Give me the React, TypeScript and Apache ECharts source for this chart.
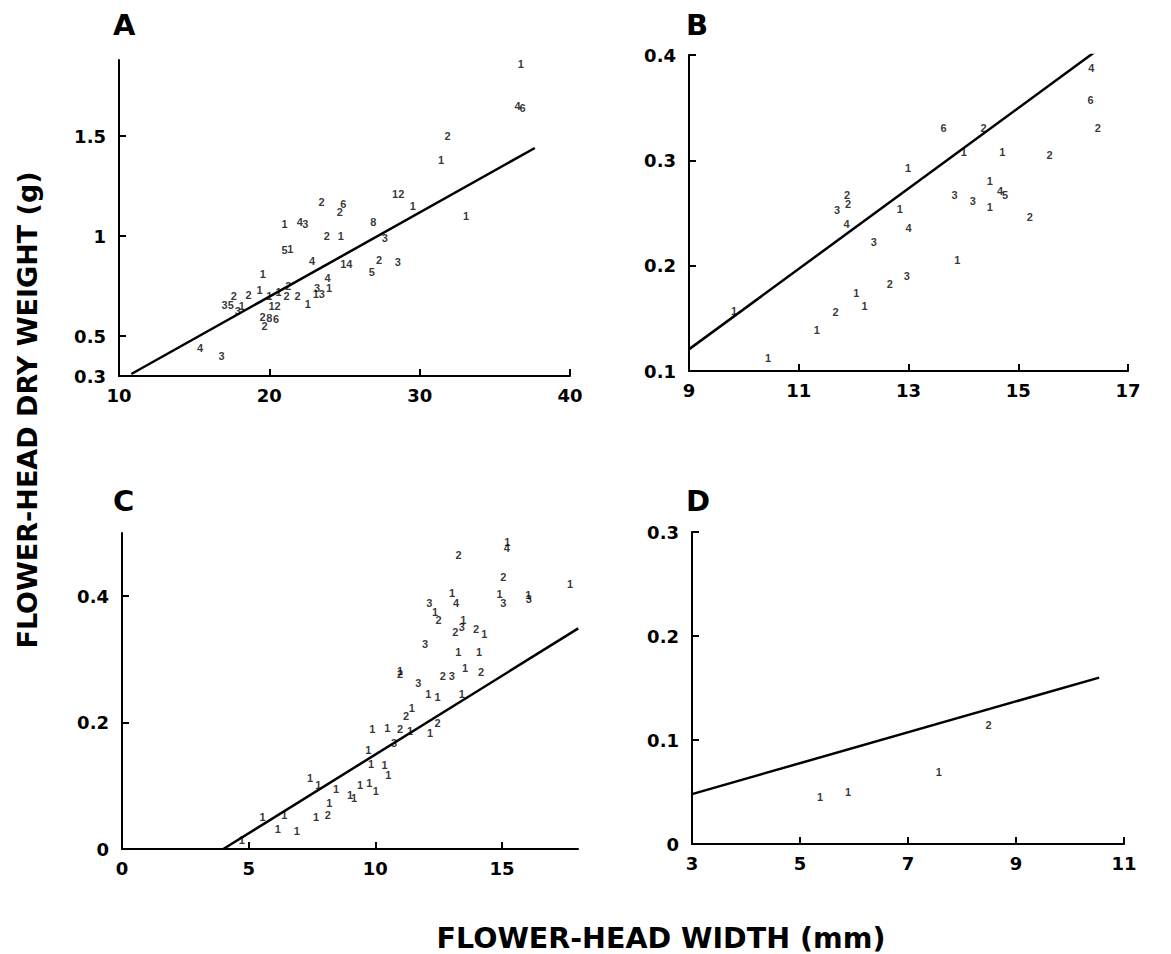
import React, { useEffect, useRef } from "react";
import * as echarts from "echarts";

// Panel A
const aX = [36.72, 36.52, 36.85, 31.86, 31.42, 28.57, 29.55, 33.09, 26.92, 27.68, 27.30, 28.55, 26.81, 25.12, 23.47, 24.92, 24.68, 21.02, 22.02, 22.40, 23.83, 24.76, 21.02, 21.40, 22.85, 19.57, 23.87, 23.18, 23.98, 23.29, 22.56, 21.87, 21.14, 21.27, 20.62, 20.00, 20.35, 19.35, 18.62, 17.64, 17.23, 18.17, 17.90, 19.55, 20.0, 20.44, 19.69, 15.39, 16.83];
const aY = [1.86, 1.65, 1.64, 1.50, 1.38, 1.21, 1.15, 1.10, 1.07, 0.99, 0.88, 0.87, 0.82, 0.86, 1.17, 1.16, 1.12, 1.06, 1.07, 1.06, 1.00, 1.00, 0.93, 0.935, 0.875, 0.81, 0.79, 0.74, 0.74, 0.71, 0.66, 0.70, 0.70, 0.75, 0.72, 0.70, 0.65, 0.73, 0.705, 0.70, 0.655, 0.65, 0.625, 0.595, 0.59, 0.585, 0.55, 0.44, 0.40];
const aN = ["1", "4", "6", "2", "1", "12", "1", "1", "8", "3", "2", "3", "5", "14", "2", "6", "2", "1", "4", "3", "2", "1", "5", "1", "4", "1", "4", "3", "1", "13", "1", "2", "2", "2", "1", "1", "12", "1", "2", "2", "35", "1", "3", "2", "8", "6", "2", "4", "3"];
const aLineX = [10.82, 37.66];
const aLineY = [0.31, 1.44];

// Panel B
const bX = [17.01, 16.33, 16.32, 16.45, 13.64, 14.37, 14.01, 14.71, 15.57, 12.99, 14.48, 14.67, 14.76, 13.84, 14.17, 14.48, 15.21, 11.88, 11.90, 11.70, 11.87, 12.84, 13.00, 12.37, 13.89, 12.97, 12.66, 12.05, 12.20, 11.67, 11.33, 9.82, 10.44];
const bY = [0.403, 0.388, 0.357, 0.331, 0.331, 0.331, 0.308, 0.308, 0.305, 0.293, 0.280, 0.271, 0.267, 0.267, 0.261, 0.256, 0.246, 0.267, 0.259, 0.253, 0.240, 0.254, 0.236, 0.222, 0.205, 0.190, 0.183, 0.174, 0.162, 0.156, 0.139, 0.157, 0.112];
const bN = ["1", "4", "6", "2", "6", "2", "1", "1", "2", "1", "1", "4", "5", "3", "3", "1", "2", "2", "2", "3", "4", "1", "4", "3", "1", "3", "2", "1", "1", "2", "1", "1", "1"];
const bLineX = [9.01, 16.45];
const bLineY = [0.121, 0.405];

// Panel C
const cX = [15.21, 15.19, 13.29, 15.05, 17.69, 14.90, 15.05, 16.04, 16.06, 13.03, 13.19, 12.13, 12.36, 12.50, 13.16, 13.41, 13.47, 13.98, 14.30, 11.96, 13.28, 14.09, 10.98, 10.98, 12.66, 13.02, 13.54, 14.17, 11.70, 12.09, 12.46, 13.41, 11.21, 11.44, 9.88, 10.47, 10.98, 11.37, 12.16, 12.46, 10.74, 9.72, 9.83, 10.36, 10.51, 7.42, 7.75, 8.45, 9.40, 9.76, 10.02, 9.00, 9.16, 8.18, 8.12, 7.66, 6.41, 5.55, 6.15, 6.90, 4.73];
const cY = [0.486, 0.477, 0.465, 0.431, 0.420, 0.404, 0.390, 0.402, 0.395, 0.405, 0.389, 0.390, 0.375, 0.363, 0.344, 0.352, 0.363, 0.348, 0.340, 0.325, 0.312, 0.311, 0.282, 0.277, 0.274, 0.274, 0.286, 0.280, 0.262, 0.245, 0.240, 0.245, 0.210, 0.223, 0.190, 0.191, 0.190, 0.187, 0.183, 0.199, 0.168, 0.156, 0.135, 0.133, 0.117, 0.113, 0.102, 0.095, 0.102, 0.104, 0.091, 0.086, 0.081, 0.072, 0.054, 0.051, 0.054, 0.051, 0.032, 0.029, 0.015];
const cN = ["1", "4", "2", "2", "1", "1", "3", "1", "3", "1", "4", "3", "1", "2", "2", "3", "1", "2", "1", "3", "1", "1", "1", "2", "2", "3", "1", "2", "3", "1", "1", "1", "2", "1", "1", "1", "2", "1", "1", "2", "3", "1", "1", "1", "1", "1", "1", "1", "1", "1", "1", "1", "1", "1", "2", "1", "1", "1", "1", "1", "1"];
const cLineX = [4.0, 18.01];
const cLineY = [0, 0.349];

// Panel D
const dX = [5.37, 5.89, 7.57, 8.49];
const dY = [0.045, 0.050, 0.069, 0.114];
const dN = ["1", "1", "1", "2"];
const dLineX = [3, 10.54];
const dLineY = [0.048, 0.160];

// Tick values
const aXTicks = [10, 20, 30, 40];
const aYTicks = [0.3, 0.5, 1, 1.5];
const bXTicks = [9, 11, 13, 15, 17];
const bYTicks = [0.1, 0.2, 0.3, 0.4];
const cXTicks = [0, 5, 10, 15];
const cYTicks = [0, 0.2, 0.4];
const dXTicks = [3, 5, 7, 9, 11];
const dYTicks = [0, 0.1, 0.2, 0.3];

const panelLetters = ["A", "B", "C", "D"];
const yTitle = "FLOWER-HEAD DRY WEIGHT (g)";
const xTitle = "FLOWER-HEAD WIDTH (mm)";

const FONT = "'DejaVu Sans', 'Liberation Sans', sans-serif";

function zip3(xs: number[], ys: number[], ns: string[]) {
  return xs.map((x, i) => [x, ys[i], ns[i]]);
}
function zip2(xs: number[], ys: number[]) {
  return xs.map((x, i) => [x, ys[i]]);
}

function makeAxis(idx: number, kind: "x" | "y", min: number, max: number, ticks: number[]) {
  const isX = kind === "x";
  const tickVals = ticks.filter((t) => t !== min);
  return {
    type: "value",
    gridIndex: idx,
    min,
    max,
    axisLine: { show: true, onZero: false, lineStyle: { color: "#000", width: 2 } },
    axisTick: {
      show: true,
      inside: true,
      length: 7,
      customValues: tickVals,
      lineStyle: { color: "#000", width: 2 },
    },
    axisLabel: {
      show: true,
      customValues: ticks,
      color: "#000",
      fontFamily: FONT,
      fontWeight: "bold",
      fontSize: 18,
      margin: isX ? 10 : 13,
      formatter: (v: number) => String(Math.round(v * 1000) / 1000),
    },
    splitLine: { show: false },
  };
}

export default function App() {
  const ref = useRef<HTMLDivElement>(null);
  useEffect(() => {
    if (!ref.current) return;
    const chart = echarts.init(ref.current, undefined, { renderer: "svg" });

    const grids = [
      { left: 119, top: 60, width: 451, height: 316 },
      { left: 689, top: 55, width: 439, height: 316 },
      { left: 122, top: 533, width: 456, height: 316 },
      { left: 692, top: 532, width: 432, height: 312 },
    ];

    const scatterSeries = (idx: number, data: any[]) => ({
      type: "scatter",
      xAxisIndex: idx,
      yAxisIndex: idx,
      data,
      symbolSize: 1,
      itemStyle: { color: "rgba(0,0,0,0)" },
      label: {
        show: true,
        position: "inside",
        formatter: (p: any) => p.value[2],
        color: "#000",
        fontFamily: "'Liberation Sans', Arial, sans-serif",
        fontWeight: "bold",
        fontSize: 11,
      },
      labelLayout: { hideOverlap: false },
      silent: true,
      z: 3,
    });
    const lineSeries = (idx: number, data: any[]) => ({
      type: "line",
      xAxisIndex: idx,
      yAxisIndex: idx,
      data,
      symbol: "none",
      lineStyle: { color: "#000", width: 2.5 },
      silent: true,
      z: 2,
    });

    const letterPos = [
      [113, 10],
      [686, 10],
      [113, 486],
      [686, 486],
    ];

    chart.setOption({
      animation: false,
      backgroundColor: "#fff",
      grid: grids,
      xAxis: [
        makeAxis(0, "x", 10, 40, aXTicks),
        makeAxis(1, "x", 9, 17, bXTicks),
        makeAxis(2, "x", 0, 18, cXTicks),
        makeAxis(3, "x", 3, 11, dXTicks),
      ],
      yAxis: [
        makeAxis(0, "y", 0.3, 1.88, aYTicks),
        makeAxis(1, "y", 0.1, 0.4, bYTicks),
        makeAxis(2, "y", 0, 0.5, cYTicks),
        makeAxis(3, "y", 0, 0.3, dYTicks),
      ],
      series: [
        scatterSeries(0, zip3(aX, aY, aN)),
        lineSeries(0, zip2(aLineX, aLineY)),
        scatterSeries(1, zip3(bX, bY, bN)),
        lineSeries(1, zip2(bLineX, bLineY)),
        scatterSeries(2, zip3(cX, cY, cN)),
        lineSeries(2, zip2(cLineX, cLineY)),
        scatterSeries(3, zip3(dX, dY, dN)),
        lineSeries(3, zip2(dLineX, dLineY)),
      ],
      graphic: [
        ...panelLetters.map((t, i) => ({
          type: "text",
          x: letterPos[i][0],
          y: letterPos[i][1],
          style: {
            text: t,
            fontFamily: FONT,
            fontWeight: "bold",
            fontSize: 29,
            fill: "#000",
          },
        })),
        {
          type: "text",
          x: 27,
          y: 410,
          rotation: Math.PI / 2,
          style: {
            text: yTitle,
            fontFamily: FONT,
            fontWeight: "bold",
            fontSize: 27,
            fill: "#000",
            align: "center",
            verticalAlign: "middle",
          },
        },
        {
          type: "text",
          x: 661,
          y: 938,
          style: {
            text: xTitle,
            fontFamily: FONT,
            fontWeight: "bold",
            fontSize: 28.5,
            fill: "#000",
            align: "center",
            verticalAlign: "middle",
          },
        },
      ],
    });
    return () => chart.dispose();
  }, []);
  return (
    <div
      ref={ref}
      style={{ position: "fixed", left: 0, top: 0, width: 1171, height: 954 }}
    />
  );
}
